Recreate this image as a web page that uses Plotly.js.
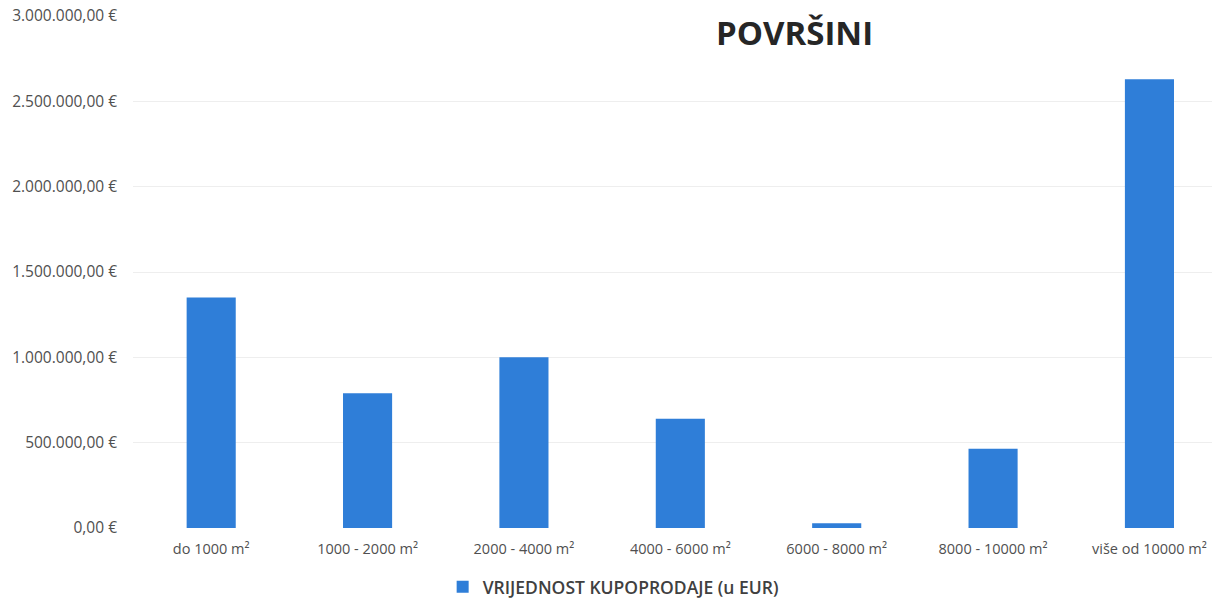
<!DOCTYPE html>
<html>
<head>
<meta charset="utf-8">
<script src="https://cdn.plot.ly/plotly-3.0.1.min.js"></script>
<style>
html,body{margin:0;padding:0;overflow:hidden;background:#fff;}
#chart{width:1212px;height:603px;}
</style>
</head>
<body>
<div id="chart"></div>
<script>
const categories = ["do 1000 m²", "1000 - 2000 m²", "2000 - 4000 m²", "4000 - 6000 m²", "6000 - 8000 m²", "8000 - 10000 m²", "više od 10000 m²"];
const values = [1350000, 790000, 1000000, 640000, 28000, 465000, 2630000];
const seriesName = "VRIJEDNOST KUPOPRODAJE (u EUR)";
const titleText = "POVRŠINI";
const yTicks = [0, 500000, 1000000, 1500000, 2000000, 2500000, 3000000];

function fmtEuro(v) {
  const parts = v.toFixed(2).split('.');
  const intPart = parts[0].replace(/\B(?=(\d{3})+(?!\d))/g, '.');
  return intPart + ',' + parts[1] + ' €';
}
const yTickText = yTicks.map(fmtEuro);

const trace = {
  type: 'bar',
  x: categories,
  y: values,
  name: seriesName,
  marker: {color: '#2f7ed8'},
  showlegend: true,
  hoverinfo: 'x+y'
};

const layout = {
  width: 1212,
  height: 603,
  margin: {l: 133, r: 0, t: 16, b: 75, autoexpand: false},
  paper_bgcolor: '#ffffff',
  plot_bgcolor: '#ffffff',
  font: {family: '"Open Sans", Lato, sans-serif', size: 14, color: '#595959'},
  bargap: 0.686,
  xaxis: {
    type: 'category',
    range: [-0.5, 6.4],
    showgrid: false,
    showline: false,
    zeroline: false,
    ticks: '',
    automargin: false,
    ticklabelstandoff: 10,
    tickfont: {size: 14.5, color: '#505050'}
  },
  yaxis: {
    range: [0, 3000000],
    tickmode: 'array',
    tickvals: yTicks,
    ticktext: yTickText,
    showgrid: true,
    gridcolor: '#eeeeee',
    gridwidth: 1,
    zeroline: false,
    showline: false,
    ticks: '',
    automargin: false,
    ticklabelstandoff: 15,
    tickfont: {size: 15.5, color: '#505050'}
  },
  showlegend: true,
  legend: {
    orientation: 'h',
    x: 0.445,
    xanchor: 'center',
    y: -0.115,
    yanchor: 'middle',
    font: {size: 17.5, color: '#404040', weight: 600},
    itemwidth: 30
  },
  annotations: [
    {
      text: titleText,
      xref: 'paper', yref: 'paper',
      x: 0.613, y: 0.967,
      xanchor: 'center', yanchor: 'middle',
      showarrow: false,
      font: {size: 33, color: '#262626', weight: 'bold'}
    }
  ]
};

Plotly.newPlot('chart', [trace], layout, {displayModeBar: false, staticPlot: true});
</script>
</body>
</html>
